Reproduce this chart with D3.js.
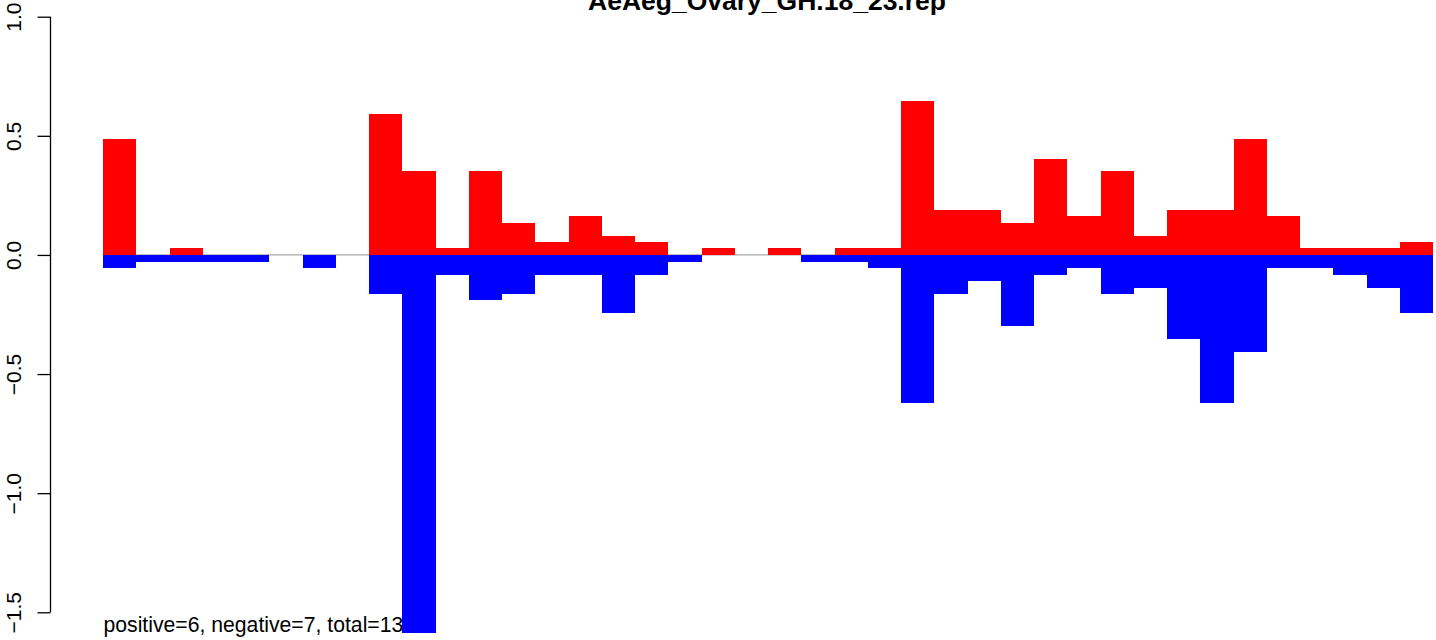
<!DOCTYPE html>
<html>
<head>
<meta charset="utf-8">
<script src="https://cdn.jsdelivr.net/npm/d3@7"></script>
<style>
  html, body { margin: 0; padding: 0; background: #fff; }
  svg { display: block; }
  text { font-family: "Liberation Sans", Arial, Helvetica, sans-serif; }
</style>
</head>
<body>
<svg id="chart" width="1436" height="640"></svg>
<script>
// ---- data ----
const title = "AeAeg_Ovary_GH.18_23.rep";
const subtitle = "positive=6, negative=7, total=13";
const categories = d3.range(1, 41).map(String);
const positiveValues = [0.487, 0, 0.029, 0, 0, 0, 0, 0, 0.592, 0.353,
                        0.029, 0.353, 0.134, 0.055, 0.164, 0.080, 0.055, 0, 0.029, 0,
                        0.029, 0, 0.029, 0.029, 0.646, 0.189, 0.189, 0.134, 0.403, 0.164,
                        0.353, 0.080, 0.189, 0.189, 0.487, 0.164, 0.029, 0.029, 0.029, 0.055];
const negativeValues = [-0.053, -0.028, -0.028, -0.028, -0.028, 0, -0.053, 0, -0.162, -1.588,
                        -0.084, -0.188, -0.162, -0.084, -0.084, -0.244, -0.084, -0.028, 0, 0,
                        0, -0.028, -0.028, -0.053, -0.622, -0.163, -0.109, -0.298, -0.084, -0.053,
                        -0.163, -0.138, -0.353, -0.622, -0.408, -0.053, -0.053, -0.084, -0.138, -0.244];
const yTicks = [-1.5, -1.0, -0.5, 0.0, 0.5, 1.0];
const yTickLabels = ["\u22121.5", "\u22121.0", "\u22120.5", "0.0", "0.5", "1.0"];

// ---- layout ----
const svg = d3.select("#chart");
const x = d3.scaleBand().domain(categories).range([103, 1433]).paddingInner(0).paddingOuter(0);
const y = d3.scaleLinear().domain([-1.5, 1.0]).range([612.3, 16.7]);

// title (clipped at the top edge, as in the reference)
svg.append("text")
  .attr("x", 767).attr("y", 10)
  .attr("text-anchor", "middle")
  .style("font-size", "26.5px").style("font-weight", "bold")
  .attr("fill", "#000")
  .text(title);

// zero line
svg.append("line")
  .attr("x1", x.range()[0]).attr("x2", x.range()[1])
  .attr("y1", y(0)).attr("y2", y(0))
  .attr("stroke", "#a8a8a8").attr("stroke-width", 1.2);

// subtitle (drawn before bars)
svg.append("text")
  .attr("x", 103.5).attr("y", 632)
  .style("font-size", "21.2px")
  .attr("fill", "#000")
  .text(subtitle);

// bars
const g = svg.append("g").attr("shape-rendering", "crispEdges");
g.selectAll("rect.pos").data(positiveValues).join("rect")
  .attr("class", "pos")
  .attr("x", (d, i) => x(categories[i]))
  .attr("width", x.bandwidth())
  .attr("y", d => y(d))
  .attr("height", d => y(0) - y(d))
  .attr("fill", "#ff0000");
g.selectAll("rect.neg").data(negativeValues).join("rect")
  .attr("class", "neg")
  .attr("x", (d, i) => x(categories[i]))
  .attr("width", x.bandwidth())
  .attr("y", y(0))
  .attr("height", d => y(d) - y(0))
  .attr("fill", "#0000ff");

// y axis
const axis = d3.axisLeft(y).tickValues(yTicks).tickSize(13)
  .tickFormat((d, i) => yTickLabels[i]);
const ag = svg.append("g").attr("transform", "translate(50.5,0)").call(axis);
ag.select(".domain").attr("d", `M0,${y(-1.5)}V${y(1.0)}`).attr("stroke", "#000").attr("stroke-width", 1.3);
ag.selectAll(".tick line").attr("stroke", "#000").attr("stroke-width", 1.3);
ag.selectAll(".tick text")
  .attr("x", null).attr("dy", null)
  .attr("transform", "translate(-29.5,0) rotate(-90)")
  .attr("text-anchor", "middle")
  .attr("y", 0)
  .style("font-size", "21px")
  .style("font-family", "'Liberation Sans', Arial, Helvetica, sans-serif")
  .attr("fill", "#000");
</script>
</body>
</html>
